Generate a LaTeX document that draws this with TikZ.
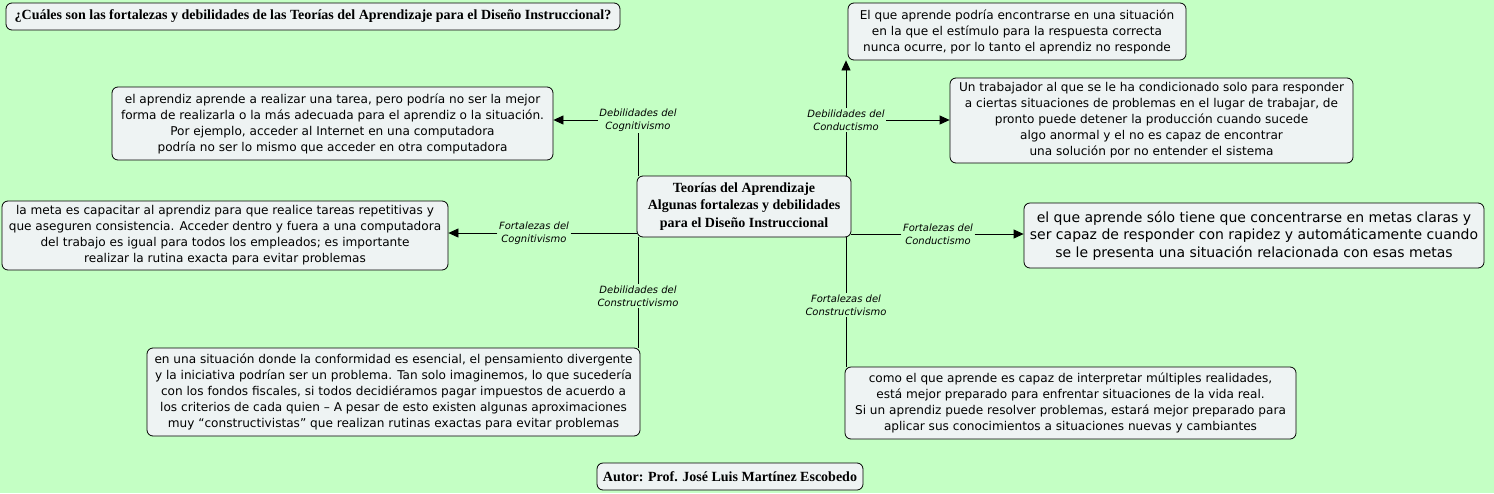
\documentclass[tikz,border=0pt]{standalone}
\usepackage{fontspec}
\setmainfont{DejaVu Sans}
\newfontfamily\titlefont{Liberation Serif}
\usetikzlibrary{arrows.meta}
\definecolor{fondo}{RGB}{196,255,196}
\definecolor{caja}{RGB}{238,243,243}
\begin{document}
\begin{tikzpicture}[x=1pt,y=-1pt,>={Triangle[length=10pt,width=9pt]},
    concepto/.style={draw, line width=0.8pt, rounded corners=6pt, fill=caja,
      align=center, inner sep=2pt, font=\fontsize{12.1}{16}\selectfont},
    titulo/.style={concepto, font=\titlefont\bfseries\fontsize{14}{17.5}\selectfont},
    enlace/.style={align=center, inner sep=1.5pt, font=\itshape\fontsize{10}{13}\selectfont},
    union/.style={line width=0.8pt}]

  % Fondo
  \fill[fondo] (0,0) rectangle (1494,493);
  \useasboundingbox (0,0) rectangle (1494,493);

  % Titulos
  \node[titulo, minimum width=614pt, minimum height=27pt] (pregunta) at (313,16.5)
    {¿Cuáles son las fortalezas y debilidades de las Teorías del Aprendizaje para el Diseño Instruccional?};
  \node[titulo, minimum width=214pt, minimum height=61pt] (centro) at (744,206.5)
    {Teorías del Aprendizaje\\Algunas fortalezas y debilidades\\para el Diseño Instruccional};
  \node[titulo, minimum width=266pt, minimum height=27pt] (autor) at (730,476.5)
    {Autor: Prof. José Luis Martínez Escobedo};

  % Conceptos
  \node[concepto, minimum width=441pt, minimum height=73pt] (cogdeb) at (332.5,123.5)
    {el aprendiz aprende a realizar una tarea, pero podría no ser la mejor\\
     forma de realizarla o la más adecuada para el aprendiz o la situación.\\
     Por ejemplo, acceder al Internet en una computadora\\
     podría no ser lo mismo que acceder en otra computadora};
  \node[concepto, minimum width=446pt, minimum height=69pt] (cogfort) at (225,235.5)
    {la meta es capacitar al aprendiz para que realice tareas repetitivas y\\
     que aseguren consistencia. Acceder dentro y fuera a una computadora\\
     del trabajo es igual para todos los empleados; es importante\\
     realizar la rutina exacta para evitar problemas};
  \node[concepto, minimum width=493pt, minimum height=88pt] (consdeb) at (393.5,392)
    {en una situación donde la conformidad es esencial, el pensamiento divergente\\
     y la iniciativa podrían ser un problema. Tan solo imaginemos, lo que sucedería\\
     con los fondos fiscales, si todos decidiéramos pagar impuestos de acuerdo a\\
     los criterios de cada quien – A pesar de esto existen algunas aproximaciones\\
     muy “constructivistas” que realizan rutinas exactas para evitar problemas};
  \node[concepto, minimum width=338pt, minimum height=57pt] (condeba) at (1017,31.5)
    {El que aprende podría encontrarse en una situación\\
     en la que el estímulo para la respuesta correcta\\
     nunca ocurre, por lo tanto el aprendiz no responde};
  \node[concepto, minimum width=403pt, minimum height=85pt] (condebb) at (1151.5,120.5)
    {Un trabajador al que se le ha condicionado solo para responder\\
     a ciertas situaciones de problemas en el lugar de trabajar, de\\
     pronto puede detener la producción cuando sucede\\
     algo anormal y el no es capaz de encontrar\\
     una solución por no entender el sistema};
  \node[concepto, minimum width=460pt, minimum height=65pt,
        font=\fontsize{14}{17.5}\selectfont] (condfort) at (1254,235.5)
    {el que aprende sólo tiene que concentrarse en metas claras y\\
     ser capaz de responder con rapidez y automáticamente cuando\\
     se le presenta una situación relacionada con esas metas};
  \node[concepto, minimum width=451pt, minimum height=72pt] (consfort) at (1070.5,403)
    {como el que aprende es capaz de interpretar múltiples realidades,\\
     está mejor preparado para enfrentar situaciones de la vida real.\\
     Si un aprendiz puede resolver problemas, estará mejor preparado para\\
     aplicar sus conocimientos a situaciones nuevas y cambiantes};

  % Frases de enlace
  \node[enlace] (dcog)  at (638,120) {Debilidades del\\Cognitivismo};
  \node[enlace] (fcog)  at (534,233) {Fortalezas del\\Cognitivismo};
  \node[enlace] (dcons) at (638,296) {Debilidades del\\Constructivismo};
  \node[enlace] (dcond) at (846,120) {Debilidades del\\Conductismo};
  \node[enlace] (fcond) at (938,234) {Fortalezas del\\Conductismo};
  \node[enlace] (fcons) at (846,305) {Fortalezas del\\Constructivismo};

  % Cognitivismo
  \draw[union] (dcog.south) -- (dcog.south |- centro.north);
  \draw[union,->] (dcog.west) -- (dcog.west -| cogdeb.east);
  \draw[union] (fcog.east) -- (fcog.east -| centro.west);
  \draw[union,->] (fcog.west) -- (fcog.west -| cogfort.east);

  % Constructivismo
  \draw[union] (dcons.north) -- (dcons.north |- centro.south);
  \draw[union] (dcons.south) -- (dcons.south |- consdeb.north);
  \draw[union] (fcons.north) -- (fcons.north |- centro.south);
  \draw[union] (fcons.south) -- (fcons.south |- consfort.north);

  % Conductismo
  \draw[union] (dcond.south) -- (dcond.south |- centro.north);
  \draw[union,->] (dcond.north) -- (dcond.north |- condeba.south);
  \draw[union,->] (dcond.east) -- (dcond.east -| condebb.west);
  \draw[union] (fcond.west) -- (fcond.west -| centro.east);
  \draw[union,->] (fcond.east) -- (fcond.east -| condfort.west);

\end{tikzpicture}
\end{document}
